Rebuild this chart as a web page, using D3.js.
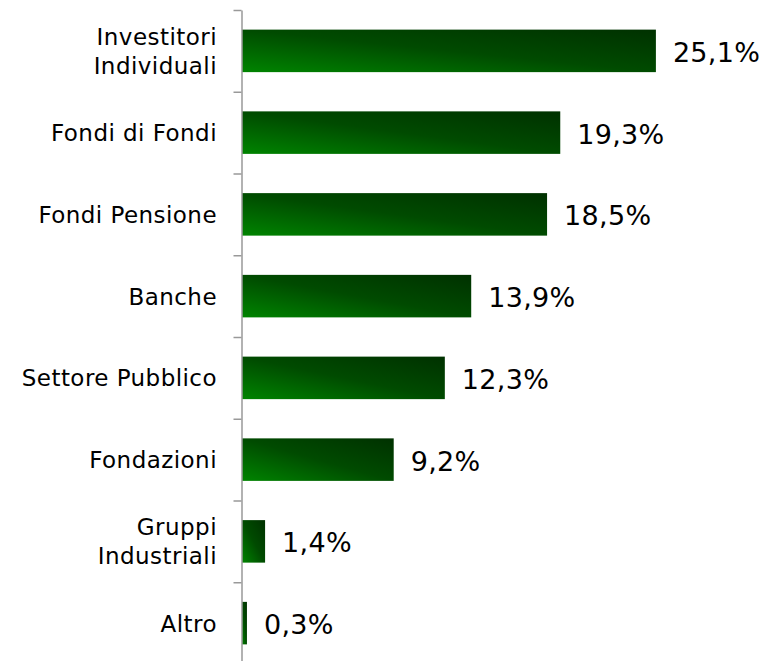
<!DOCTYPE html>
<html>
<head>
<meta charset="utf-8">
<script src="https://cdn.jsdelivr.net/npm/d3@7"></script>
<style>
  body { margin: 0; background: #fff; }
  svg { display: block; }
</style>
</head>
<body>
<svg id="chart"></svg>
<script>
const categories = [
  'Investitori\nIndividuali',
  'Fondi di Fondi',
  'Fondi Pensione',
  'Banche',
  'Settore Pubblico',
  'Fondazioni',
  'Gruppi\nIndustriali',
  'Altro'
];
const shares = [25.1, 19.3, 18.5, 13.9, 12.3, 9.2, 1.4, 0.3];

const W = 773, H = 661;
const axisX = 241.5;
const plotTop = 10, plotBottom = 664;

const svg = d3.select('#chart')
  .attr('width', W)
  .attr('height', H);

const defs = svg.append('defs');
const grad = defs.append('linearGradient')
  .attr('id', 'barGrad')
  .attr('x1', 0).attr('y1', 1)
  .attr('x2', 1).attr('y2', 0);
grad.append('stop').attr('offset', '0%').attr('stop-color', '#008400');
grad.append('stop').attr('offset', '50%').attr('stop-color', '#004b00');
grad.append('stop').attr('offset', '100%').attr('stop-color', '#003100');

const yScale = d3.scaleBand()
  .domain(categories)
  .range([plotTop, plotBottom])
  .paddingInner(0.48)
  .paddingOuter(0.24);

const xScale = d3.scaleLinear()
  .domain([0, 30])
  .range([axisX + 0.5, axisX + 0.5 + 30 * 16.49]);

const it = d3.formatLocale({ decimal: ',', thousands: '.', grouping: [3], currency: ['€', ''] });
const fmt = v => it.format('.1f')(v) + '%';

// bars
svg.selectAll('.bar')
  .data(shares)
  .enter()
  .append('rect')
  .attr('class', 'bar')
  .attr('x', xScale(0))
  .attr('y', (d, i) => yScale(categories[i]))
  .attr('width', d => xScale(d) - xScale(0))
  .attr('height', yScale.bandwidth())
  .attr('fill', 'url(#barGrad)');

// value labels
svg.selectAll('.val')
  .data(shares)
  .enter()
  .append('text')
  .attr('class', 'val')
  .attr('x', d => xScale(d) + 17)
  .attr('y', (d, i) => yScale(categories[i]) + yScale.bandwidth() / 2)
  .attr('dy', '0.41em')
  .attr('font-family', '"DejaVu Sans", Verdana, sans-serif')
  .attr('font-size', 27)
  .attr('letter-spacing', 0.3)
  .attr('fill', '#000')
  .text(d => fmt(d));

// axis with boundary ticks
const boundary = d3.scaleLinear().domain([0, categories.length]).range([plotTop, plotBottom]);
const axis = d3.axisLeft(boundary)
  .tickValues(d3.range(categories.length + 1))
  .tickFormat('')
  .tickSizeInner(8)
  .tickSizeOuter(0);
const gAxis = svg.append('g')
  .attr('transform', `translate(${axisX},0)`)
  .call(axis);
gAxis.selectAll('path, line')
  .attr('stroke', '#999')
  .attr('stroke-width', 1.5);

// category labels
const labels = svg.selectAll('.cat')
  .data(categories)
  .enter()
  .append('text')
  .attr('class', 'cat')
  .attr('text-anchor', 'end')
  .attr('font-family', '"DejaVu Sans", Verdana, sans-serif')
  .attr('font-size', 23)
  .attr('letter-spacing', 0.45)
  .attr('fill', '#000');

labels.each(function (d) {
  const lines = d.split('\n');
  const cy = yScale(d) + yScale.bandwidth() / 2;
  const lh = 29;
  const t = d3.select(this);
  lines.forEach((ln, k) => {
    t.append('tspan')
      .attr('x', 217)
      .attr('y', cy - (lines.length - 1) * lh / 2 + k * lh)
      .attr('dy', '0.37em')
      .text(ln);
  });
});
</script>
</body>
</html>
